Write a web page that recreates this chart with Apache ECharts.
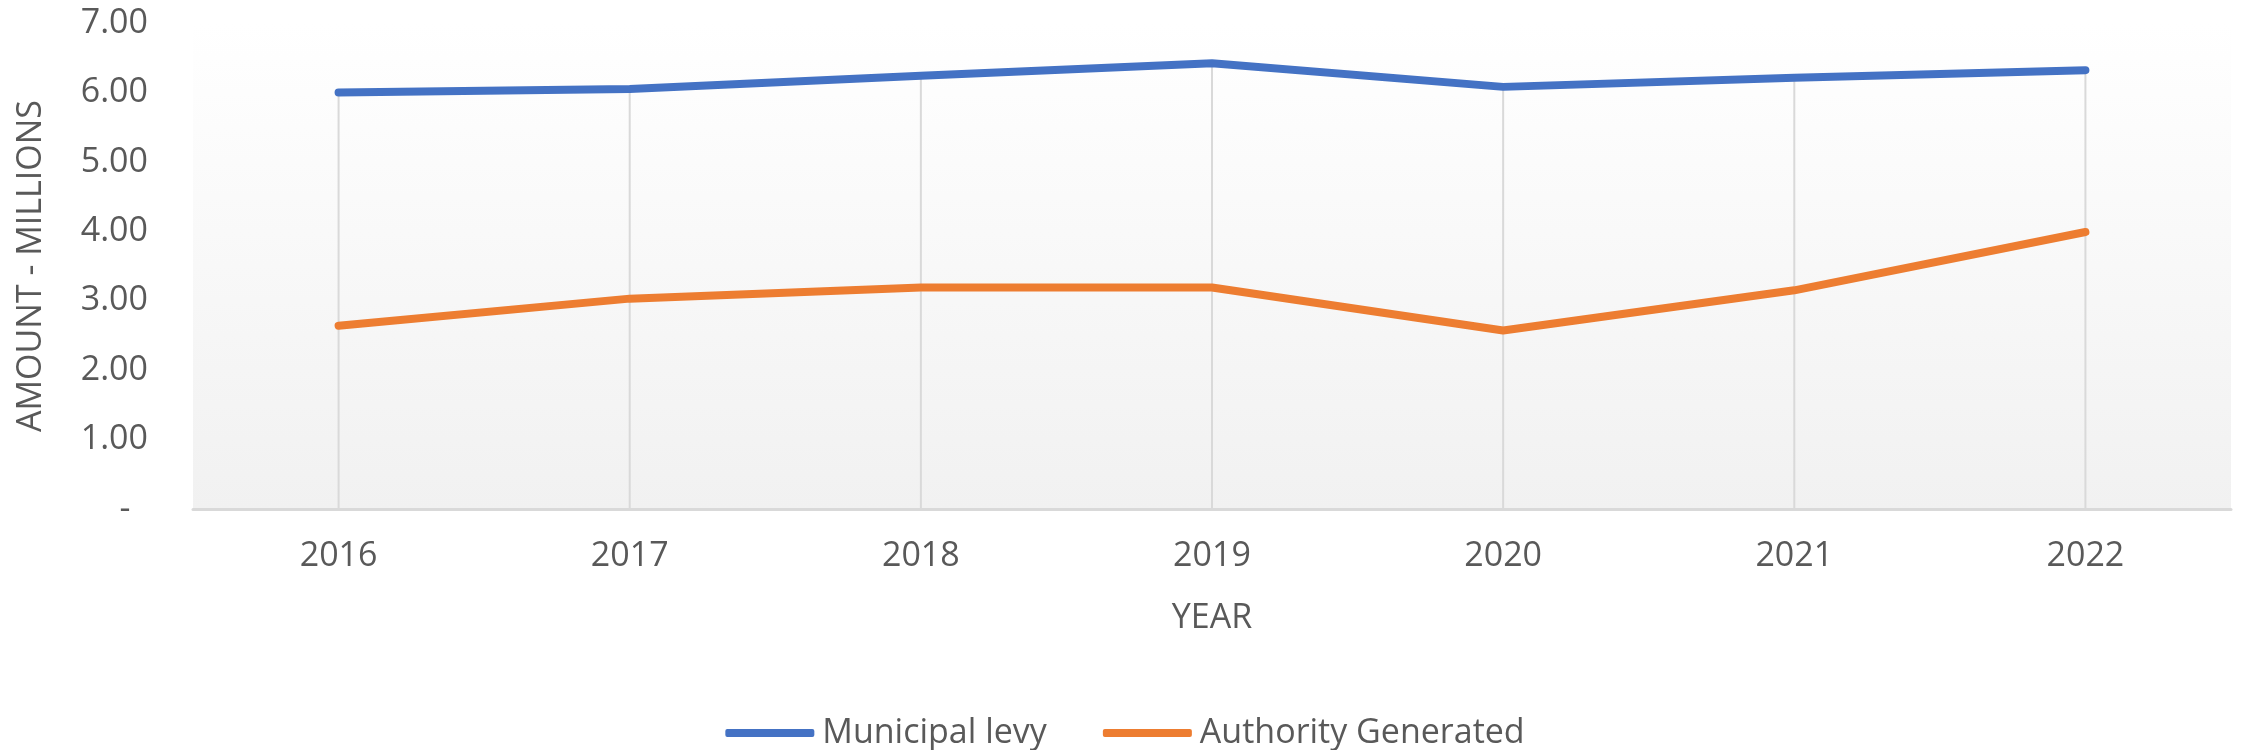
<!DOCTYPE html>
<html>
<head>
<meta charset="utf-8">
<title>Municipal levy vs Authority Generated</title>
<script src="https://cdn.jsdelivr.net/npm/echarts@6/dist/echarts.min.js"></script>
<style>
  html, body { margin: 0; padding: 0; background: #fff; }
  #chart { width: 2250px; height: 750px; }
</style>
</head>
<body>
<div id="chart"></div>
<script>
// data (millions)
var years = ['2016', '2017', '2018', '2019', '2020', '2021', '2022'];
var municipalLevy = [6.00, 6.05, 6.24, 6.42, 6.08, 6.21, 6.32];
var authorityGenerated = [2.64, 3.03, 3.19, 3.19, 2.57, 3.15, 3.99];
var yTicks = [0, 1, 2, 3, 4, 5, 6, 7];

var textColor = '#595959';
var fontFamily = '"Open Sans", "Liberation Sans", sans-serif';

var myChart = echarts.init(document.getElementById('chart'));
myChart.setOption({
  backgroundColor: '#ffffff',
  textStyle: { fontFamily: fontFamily },
  grid: {
    left: 193,
    right: 19,
    top: 23,
    bottom: 241,
    show: true,
    borderWidth: 0,
    // plot area fades from white to light grey
    backgroundColor: new echarts.graphic.LinearGradient(0, 0, 0, 1, [
      { offset: 0, color: '#ffffff' },
      { offset: 1, color: '#f1f1f1' }
    ])
  },
  legend: {
    data: ['Municipal levy', 'Authority Generated'],
    bottom: -5,
    left: 'center',
    icon: 'roundRect',
    itemWidth: 89,
    itemHeight: 8,
    itemGap: 56,
    textStyle: { color: textColor, fontSize: 34, fontFamily: fontFamily, padding: [0, 0, 0, 3] }
  },
  xAxis: {
    type: 'category',
    data: years,
    boundaryGap: true,
    name: 'YEAR',
    nameLocation: 'middle',
    nameGap: 92,
    nameTextStyle: { color: textColor, fontSize: 34, fontFamily: fontFamily },
    axisLine: { show: true, lineStyle: { color: '#d9d9d9', width: 3 } },
    axisTick: { show: false },
    axisLabel: { color: textColor, fontSize: 34, fontFamily: fontFamily, margin: 30 },
    splitLine: { show: false }
  },
  yAxis: {
    type: 'value',
    min: yTicks[0],
    max: yTicks[yTicks.length - 1],
    interval: 1,
    name: 'AMOUNT - MILLIONS',
    nameLocation: 'middle',
    nameRotate: 90,
    nameGap: 145,
    nameTextStyle: { color: textColor, fontSize: 34, fontFamily: fontFamily },
    axisLine: { show: false },
    axisTick: { show: false },
    splitLine: { show: false },
    axisLabel: {
      color: textColor,
      fontSize: 34,
      fontFamily: fontFamily,
      margin: 45,
      formatter: function (v) {
        return v === 0 ? '-  ' : v.toFixed(2);
      }
    }
  },
  series: [
    {
      // drop lines from the top series down to the axis
      name: 'drop',
      type: 'bar',
      data: municipalLevy,
      barWidth: 2,
      itemStyle: { color: '#d9d9d9' },
      silent: true,
      z: 1
    },
    {
      name: 'Municipal levy',
      type: 'line',
      data: municipalLevy,
      symbol: 'none',
      lineStyle: { color: '#4472c4', width: 8, cap: 'round', join: 'round' },
      itemStyle: { color: '#4472c4' },
      z: 3
    },
    {
      name: 'Authority Generated',
      type: 'line',
      data: authorityGenerated,
      symbol: 'none',
      lineStyle: { color: '#ed7d31', width: 8, cap: 'round', join: 'round' },
      itemStyle: { color: '#ed7d31' },
      z: 3
    }
  ]
});
</script>
</body>
</html>
